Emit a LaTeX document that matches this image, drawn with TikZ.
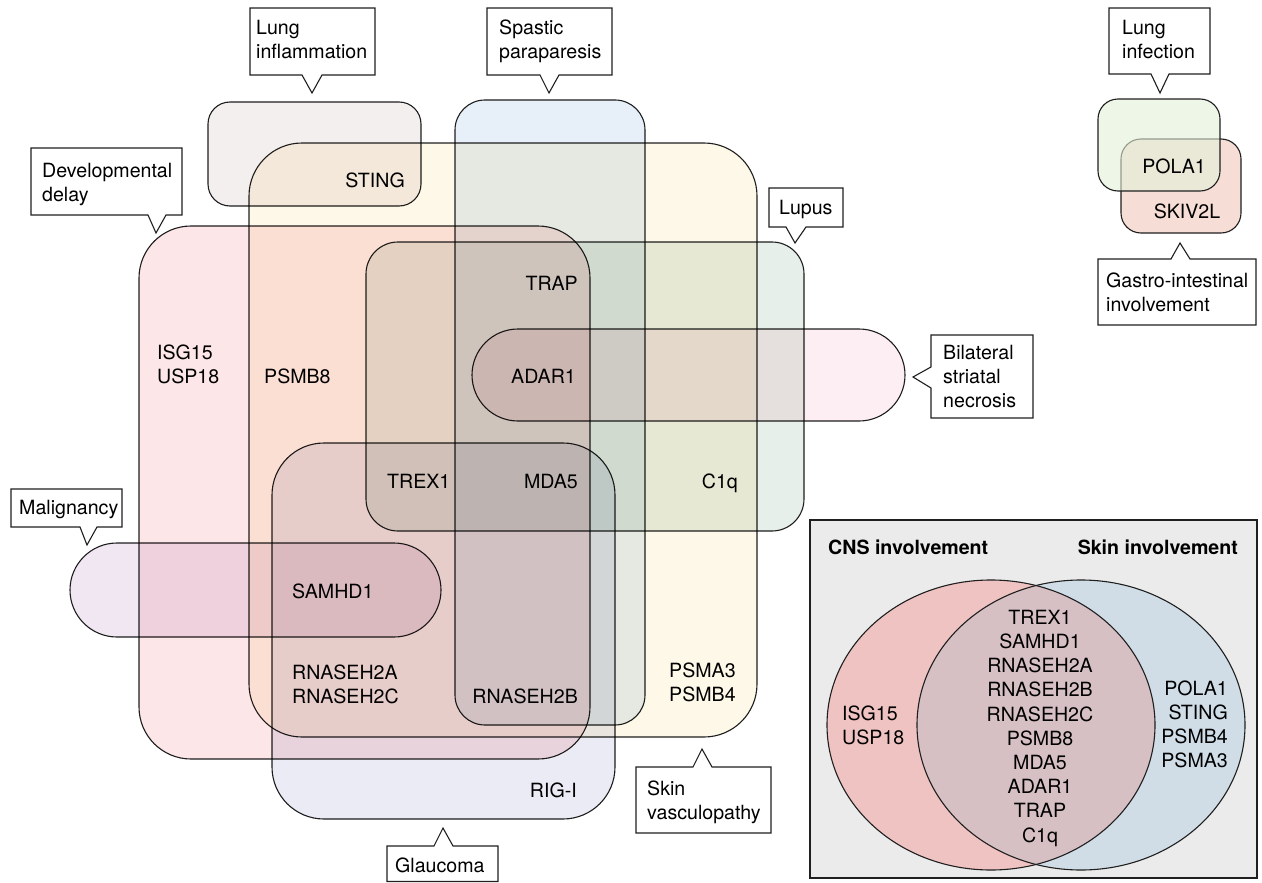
\documentclass[tikz,border=0pt]{standalone}
\usepackage{fontspec}
\setmainfont{TeX Gyre Heros}
\definecolor{cLungInfl}{HTML}{F4EFEF}
\definecolor{cSpastic}{HTML}{E7F0F8}
\definecolor{cSkinV}{HTML}{FEF8E8}
\definecolor{cDev}{HTML}{FDE6E8}
\definecolor{cLupus}{HTML}{E7EFEA}
\definecolor{cBSN}{HTML}{FDEEF3}
\definecolor{cGlau}{HTML}{EAEBF4}
\definecolor{cMal}{HTML}{F1E7F3}
\definecolor{cLungIc}{HTML}{E3F0D9}
\definecolor{cGI}{HTML}{F6DED6}
\definecolor{cPanel}{HTML}{EBEBEB}
\definecolor{cCNS}{HTML}{EFC3C1}
\definecolor{cSkinC}{HTML}{D0DDE6}
\definecolor{cLens}{HTML}{D6C0C4}
\begin{document}
\begin{tikzpicture}[x=1pt,y=-1pt,
  every node/.style={font=\fontsize{19.6}{24}\selectfont, inner sep=0pt, text=black},
  setline/.style={draw=black!88, line width=1.1pt},
  callbox/.style={draw=black!88, line width=1.1pt, fill=white, line join=miter},
  lt/.style={anchor=base west, align=left},
  rt/.style={anchor=base east, align=right},
  ct/.style={anchor=base, align=center},
  hd/.style={font=\fontsize{19.6}{24}\selectfont\bfseries}]
\fill[white] (0,0) rectangle (1262,883);
\useasboundingbox (0,0) rectangle (1262,883);

% ---- main Venn sets ----
\begin{scope}[blend mode=multiply]
\filldraw[setline, fill=cLungInfl, rounded corners=22pt] (208,102) rectangle (421,206);
\filldraw[setline, fill=cSpastic, rounded corners=30pt] (455,100) rectangle (645,725);
\filldraw[setline, fill=cSkinV, rounded corners=53pt] (249,143) rectangle (757,737);
\filldraw[setline, fill=cDev, rounded corners=52pt] (139,226) rectangle (590,759);
\filldraw[setline, fill=cLupus, rounded corners=32pt] (366,242) rectangle (804,531);
\filldraw[setline, fill=cBSN, rounded corners=46pt] (472,329) rectangle (905,421);
\filldraw[setline, fill=cGlau, rounded corners=52pt] (272,443) rectangle (615,819);
\filldraw[setline, fill=cMal, rounded corners=47pt] (70,543) rectangle (441,637);
\end{scope}

% ---- right cluster ----
\filldraw[setline, fill=cGI, rounded corners=20pt] (1121,139) rectangle (1241,233);
\filldraw[setline, fill=cLungIc, fill opacity=0.6, rounded corners=20pt] (1098,99) rectangle (1220,191);

% ---- gene labels (multi-line nodes: base = last line) ----
\node[rt] (sting) at (405,187) {STING};
\node[rt] (trap) at (578,290) {TRAP};
\node[lt] (isg) at (157,383) {ISG15\\USP18};
\node[lt] (psmb8) at (264,383) {PSMB8};
\node[rt] (adar) at (576,383) {ADAR1};
\node[lt] (trex) at (387,488) {TREX1};
\node[rt] (mda) at (578,488) {MDA5};
\node[rt] (c1q) at (738,488) {C1q};
\node[lt] (samhd) at (292,598) {SAMHD1};
\node[lt] (rnac) at (292,703) {RNASEH2A\\RNASEH2C};
\node[rt] (rnab) at (578,703) {RNASEH2B};
\node[lt] (psma) at (669,701) {PSMA3\\PSMB4};
\node[rt] (rigi) at (577,797) {RIG-I};
\node[ct] (pola) at (1174,173) {POLA1};
\node[ct] (skiv) at (1187,218) {SKIV2L};

% ---- callouts ----
\draw[callbox] (250,8) -- (375,8) -- (375,75) -- (322,75) -- (312,93) -- (302,75) -- (250,75) -- cycle;
\node[lt] (tLungInfl) at (256,59) {Lung\\inflammation};
\draw[callbox] (487,8) -- (612,8) -- (612,75) -- (559,75) -- (549,93) -- (540,75) -- (487,75) -- cycle;
\node[lt] (tSpastic) at (499,59) {Spastic\\paraparesis};
\draw[callbox] (31,148) -- (182,148) -- (182,215) -- (166,215) -- (156,233) -- (148,215) -- (31,215) -- cycle;
\node[lt] (tDev) at (42,201) {Developmental\\delay};
\draw[callbox] (769,188) -- (843,188) -- (843,227) -- (806,227) -- (795,243) -- (786,227) -- (769,227) -- cycle;
\node[lt] (tLupus) at (779,214) {Lupus};
\draw[callbox] (1109,8) -- (1210,8) -- (1210,74) -- (1169,74) -- (1160,93) -- (1151,74) -- (1109,74) -- cycle;
\node[lt] (tLungIc) at (1122,59) {Lung\\infection};
\draw[callbox] (11,489) -- (122,489) -- (122,527) -- (97,527) -- (87,545) -- (80,527) -- (11,527) -- cycle;
\node[lt] (tMal) at (19,514) {Malignancy};
\draw[callbox] (636,767) -- (693,767) -- (702,749) -- (712,767) -- (771,767) -- (771,833) -- (636,833) -- cycle;
\node[lt] (tSkinV) at (647,819) {Skin\\vasculopathy};
\draw[callbox] (387,846) -- (434,846) -- (443,828) -- (453,846) -- (498,846) -- (498,881.5) -- (387,881.5) -- cycle;
\node[lt] (tGlau) at (395,872) {Glaucoma};
\draw[callbox] (1098,259) -- (1171,259) -- (1180,243) -- (1190,259) -- (1256,259) -- (1256,325) -- (1098,325) -- cycle;
\node[lt] (tGI) at (1106,311) {Gastro-intestinal\\involvement};
\draw[callbox] (931,335) -- (1033,335) -- (1033,418) -- (931,418) -- (931,388) -- (913,377) -- (931,367) -- cycle;
\node[lt] (tBSN) at (943,407) {Bilateral\\striatal\\necrosis};

% ---- CNS / skin panel ----
\filldraw[setline, fill=cPanel] (810,520) rectangle (1257,878);
\fill[cCNS] (991,725) ellipse [x radius=164pt, y radius=145pt];
\fill[cSkinC] (1081,725) ellipse [x radius=164pt, y radius=145pt];
\begin{scope}
\clip (991,725) ellipse [x radius=164pt, y radius=145pt];
\fill[cLens] (1081,725) ellipse [x radius=164pt, y radius=145pt];
\end{scope}
\draw[setline] (991,725) ellipse [x radius=164pt, y radius=145pt];
\draw[setline] (1081,725) ellipse [x radius=164pt, y radius=145pt];
\node[anchor=base west, hd] (hCNS) at (828,554) {CNS involvement};
\node[anchor=base east, hd] (hSkin) at (1238,554) {Skin involvement};
\node[ct, font=\fontsize{19.6}{24.2}\selectfont] (both) at (1040,842) {TREX1\\SAMHD1\\RNASEH2A\\RNASEH2B\\RNASEH2C\\PSMB8\\MDA5\\ADAR1\\TRAP\\C1q};
\node[lt] (cnsonly) at (842,744) {ISG15\\USP18};
\node[rt, font=\fontsize{19.6}{23.7}\selectfont] (skinonly) at (1228,767) {POLA1\\STING\\PSMB4\\PSMA3};
\end{tikzpicture}
\end{document}
